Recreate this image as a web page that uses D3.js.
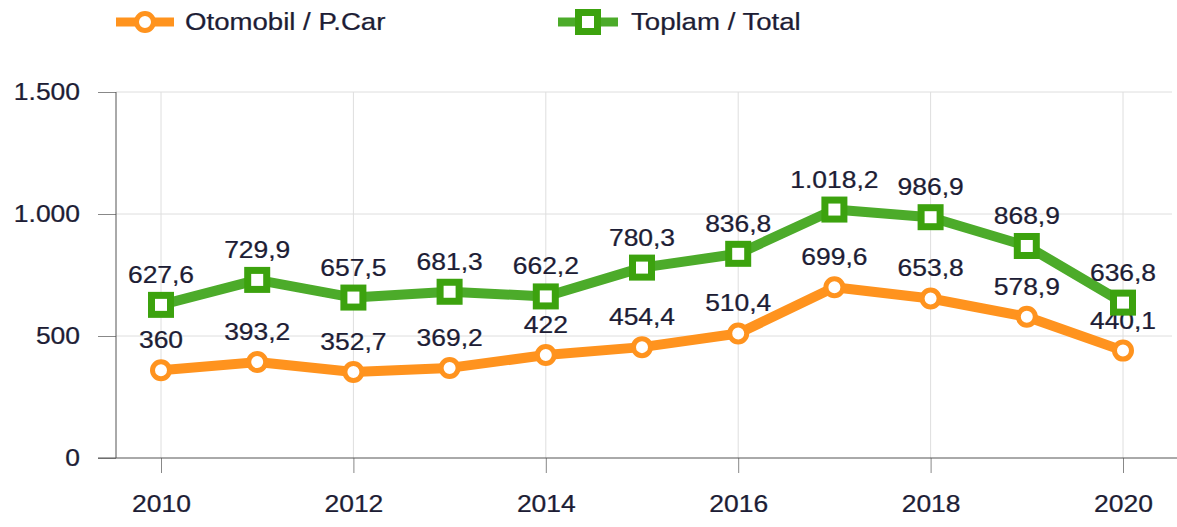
<!DOCTYPE html>
<html>
<head>
<meta charset="utf-8">
<script src="https://cdn.jsdelivr.net/npm/d3@7"></script>
<style>
  body { margin: 0; background: #fff; }
  svg { display: block; font-family: "Liberation Sans", Arial, sans-serif; }
</style>
</head>
<body>
<div id="chart"></div>
<script>
// data
const years = [2010, 2011, 2012, 2013, 2014, 2015, 2016, 2017, 2018, 2019, 2020];
const carValues = [360, 393.2, 352.7, 369.2, 422, 454.4, 510.4, 699.6, 653.8, 578.9, 440.1];
const totalValues = [627.6, 729.9, 657.5, 681.3, 662.2, 780.3, 836.8, 1018.2, 986.9, 868.9, 636.8];
const seriesNames = ["Otomobil / P.Car", "Toplam / Total"];
const yTicks = [0, 500, 1000, 1500];
const xTicks = [2010, 2012, 2014, 2016, 2018, 2020];

const width = 1177, height = 527;
const stretch = 1.15;   // text in the reference is a bit wide
const fontSize = 23;
const legendFont = 24;
const textColor = "#1d1d35";

const orange = "#ff931e";
const green = "#4cab2a";
const greenDark = "#3ca20e";

// Turkish number format: 1.018,2
const tr = d3.formatLocale({ decimal: ",", thousands: ".", grouping: [3], currency: ["", ""] });
const fmtVal = tr.format(",.1~f");
const fmtTick = tr.format(",.0f");

const plotLeft = 116, plotRight = 1172, plotTop = 92, plotBottom = 458;

const x = d3.scaleLinear().domain([2010, 2020]).range([161, 1123]);
const y = d3.scaleLinear().domain([0, 1500]).range([plotBottom, plotTop]);

const svg = d3.select("#chart").append("svg")
    .attr("width", width)
    .attr("height", height);

// grid
svg.append("g").selectAll("line")
    .data(yTicks.filter(d => d > 0))
    .join("line")
    .attr("x1", plotLeft).attr("x2", plotRight)
    .attr("y1", d => y(d)).attr("y2", d => y(d))
    .attr("stroke", "#dedede");

svg.append("g").selectAll("line")
    .data(xTicks)
    .join("line")
    .attr("x1", d => x(d)).attr("x2", d => x(d))
    .attr("y1", plotTop).attr("y2", plotBottom)
    .attr("stroke", "#dedede");

// axes
const yAxis = svg.append("g")
    .attr("transform", `translate(${plotLeft},0)`)
    .call(d3.axisLeft(y).tickValues(yTicks).tickFormat(fmtTick).tickSize(18).tickPadding(13.3));

const xAxis = svg.append("g")
    .attr("transform", `translate(0,${plotBottom})`)
    .call(d3.axisBottom(x).tickValues(xTicks).tickFormat(d3.format("d")).tickSize(15).tickPadding(23));

[yAxis, xAxis].forEach(ax => {
    ax.select(".domain").remove();
    ax.selectAll(".tick line").attr("stroke", "#888");
    ax.selectAll(".tick text")
        .attr("font-size", fontSize)
        .attr("font-family", "Liberation Sans, Arial, sans-serif")
        .attr("fill", textColor)
        .attr("stroke", textColor)
        .attr("stroke-width", 0.25)
        .attr("transform", `scale(${stretch},1)`);
});

// axis lines
svg.append("line")
    .attr("x1", plotLeft).attr("x2", plotLeft)
    .attr("y1", plotTop).attr("y2", plotBottom)
    .attr("stroke", "#555");
svg.append("line")
    .attr("x1", 98).attr("x2", width)
    .attr("y1", plotBottom).attr("y2", plotBottom)
    .attr("stroke", "#555");

// stretched text helper
const addText = (g, tx, ty, str, anchor, size) => {
    g.append("text")
        .attr("transform", `translate(${tx},${ty}) scale(${stretch},1)`)
        .attr("text-anchor", anchor)
        .attr("font-size", size || fontSize)
        .attr("fill", textColor)
        .attr("stroke", textColor)
        .attr("stroke-width", 0.25)
        .text(str);
};

const line = d3.line()
    .x(d => x(d.year))
    .y(d => y(d.value));

const drawSeries = (values, color, marker) => {
    const data = years.map((yr, i) => ({ year: yr, value: values[i] }));
    const g = svg.append("g");

    g.append("path")
        .datum(data)
        .attr("d", line)
        .attr("fill", "none")
        .attr("stroke", color)
        .attr("stroke-width", 10)
        .attr("stroke-linejoin", "round");

    if (marker === "circle") {
        g.selectAll("circle")
            .data(data)
            .join("circle")
            .attr("cx", d => x(d.year))
            .attr("cy", d => y(d.value))
            .attr("r", 8.5)
            .attr("fill", "#fff")
            .attr("stroke", color)
            .attr("stroke-width", 5);
    } else {
        g.selectAll("rect")
            .data(data)
            .join("rect")
            .attr("x", d => x(d.year) - 9.5)
            .attr("y", d => y(d.value) - 9.5)
            .attr("width", 19)
            .attr("height", 19)
            .attr("fill", "#fff")
            .attr("stroke", greenDark)
            .attr("stroke-width", 7);
    }

    data.forEach(d => addText(g, x(d.year), y(d.value) - 22, fmtVal(d.value), "middle"));
};

drawSeries(carValues, orange, "circle");
drawSeries(totalValues, green, "square");

// legend
const legend = svg.append("g");
const legendY = 22;

legend.append("line")
    .attr("x1", 116).attr("x2", 174)
    .attr("y1", legendY).attr("y2", legendY)
    .attr("stroke", orange).attr("stroke-width", 9);
legend.append("circle")
    .attr("cx", 145).attr("cy", legendY).attr("r", 8.5)
    .attr("fill", "#fff").attr("stroke", orange).attr("stroke-width", 5);
addText(legend, 185, legendY + 8, seriesNames[0], "start", legendFont);

legend.append("line")
    .attr("x1", 558).attr("x2", 618)
    .attr("y1", legendY).attr("y2", legendY)
    .attr("stroke", green).attr("stroke-width", 9);
legend.append("rect")
    .attr("x", 588 - 9.5).attr("y", legendY - 9.5).attr("width", 19).attr("height", 19)
    .attr("fill", "#fff").attr("stroke", greenDark).attr("stroke-width", 7);
addText(legend, 631, legendY + 8, seriesNames[1], "start", legendFont);
</script>
</body>
</html>
